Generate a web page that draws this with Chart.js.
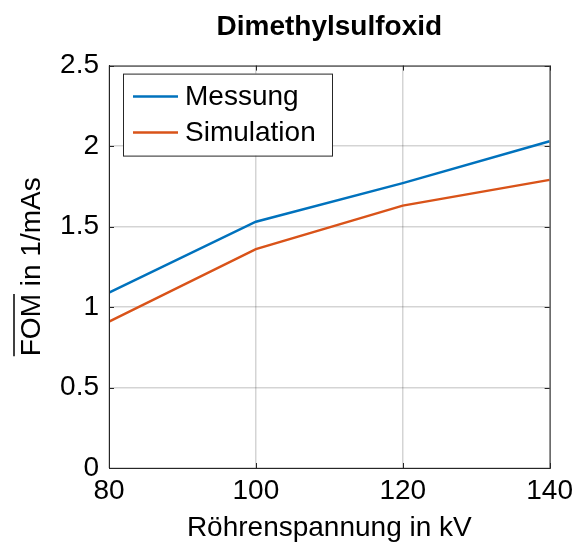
<!DOCTYPE html>
<html>
<head>
<meta charset="utf-8">
<script src="https://cdn.jsdelivr.net/npm/chart.js@4/dist/chart.umd.min.js"></script>
<style>
  html, body { margin: 0; padding: 0; background: #fff; }
</style>
</head>
<body>
<canvas id="chart" width="579" height="547"></canvas>
<script>
// FOM over tube voltage, measured vs. simulated
const voltages = [80, 100, 120, 140];
const messung = [1.09, 1.53, 1.77, 2.03];
const simulation = [0.91, 1.36, 1.63, 1.79];
const xTicks = [80, 100, 120, 140];
const yTicks = [0, 0.5, 1, 1.5, 2, 2.5];

const FONT = "'Liberation Sans', Arial, sans-serif";
const AXIS_COLOR = '#262626';
const GRID_COLOR = 'rgba(0,0,0,0.17)';

function points(values) {
    return voltages.map((v, i) => ({ x: v, y: values[i] }));
}

// box round the plot area plus short inward ticks on all four sides
const boxPlugin = {
    id: 'box',
    afterDatasetsDraw(chart) {
        const { ctx, chartArea: a, scales } = chart;
        ctx.save();
        ctx.strokeStyle = AXIS_COLOR;
        ctx.lineWidth = 1;
        ctx.strokeRect(a.left + 0.5, a.top + 0.5, a.right - a.left, a.bottom - a.top);
        ctx.beginPath();
        xTicks.forEach(t => {
            const x = Math.round(scales.x.getPixelForValue(t)) + 0.5;
            ctx.moveTo(x, a.bottom); ctx.lineTo(x, a.bottom - 5);
            ctx.moveTo(x, a.top); ctx.lineTo(x, a.top + 5);
        });
        yTicks.forEach(t => {
            const y = Math.round(scales.y.getPixelForValue(t)) + 0.5;
            ctx.moveTo(a.left, y); ctx.lineTo(a.left + 5, y);
            ctx.moveTo(a.right, y); ctx.lineTo(a.right - 5, y);
        });
        ctx.stroke();
        ctx.restore();
    }
};

// legend box in the upper left corner of the plot
const insideLegend = {
    id: 'insideLegend',
    afterDraw(chart) {
        const { ctx, chartArea: a } = chart;
        const x0 = a.left + 14, y0 = a.top + 8;
        const w = 209, h = 82;
        ctx.save();
        ctx.fillStyle = '#fff';
        ctx.fillRect(x0, y0, w, h);
        ctx.strokeStyle = AXIS_COLOR;
        ctx.lineWidth = 1;
        ctx.strokeRect(x0 + 0.5, y0 + 0.5, w, h);
        ctx.font = '28px ' + FONT;
        ctx.textBaseline = 'middle';
        chart.data.datasets.forEach((ds, i) => {
            const y = y0 + 23 + i * 36;
            ctx.strokeStyle = ds.borderColor;
            ctx.lineWidth = 2.5;
            ctx.beginPath();
            ctx.moveTo(x0 + 10, y);
            ctx.lineTo(x0 + 55, y);
            ctx.stroke();
            ctx.fillStyle = '#000';
            ctx.fillText(ds.label, x0 + 62, y + 1);
        });
        ctx.restore();
    }
};

// y axis title with an overline on FOM
const yTitle = {
    id: 'yTitle',
    afterDraw(chart) {
        const { ctx, chartArea: a } = chart;
        const head = 'FOM', tail = ' in 1/mAs';
        ctx.save();
        ctx.font = '28px ' + FONT;
        ctx.fillStyle = '#000';
        ctx.textBaseline = 'alphabetic';
        ctx.translate(40, (a.top + a.bottom) / 2);
        ctx.rotate(-Math.PI / 2);
        const wHead = ctx.measureText(head).width;
        const wAll = ctx.measureText(head + tail).width;
        const x = -wAll / 2;
        ctx.fillText(head + tail, x, 0);
        ctx.strokeStyle = '#000';
        ctx.lineWidth = 1.5;
        ctx.beginPath();
        ctx.moveTo(x, -26);
        ctx.lineTo(x + wHead, -26);
        ctx.stroke();
        ctx.restore();
    }
};

new Chart(document.getElementById('chart'), {
    type: 'line',
    data: {
        datasets: [
            { label: 'Messung', data: points(messung), borderColor: '#0072BD', borderWidth: 2.5, pointRadius: 0, tension: 0 },
            { label: 'Simulation', data: points(simulation), borderColor: '#D95319', borderWidth: 2.5, pointRadius: 0, tension: 0 }
        ]
    },
    options: {
        responsive: false,
        animation: false,
        devicePixelRatio: 1,
        layout: { padding: { left: 0, right: 28, top: 0, bottom: 0 } },
        plugins: {
            legend: { display: false },
            tooltip: { enabled: false },
            title: {
                display: true,
                fullSize: false,
                text: 'Dimethylsulfoxid',
                color: '#000',
                font: { family: FONT, size: 28, weight: 'bold' },
                padding: { top: 10, bottom: 22 }
            }
        },
        scales: {
            x: {
                type: 'linear',
                min: 80,
                max: 140,
                afterFit(scale) { scale.height = 79; },
                afterBuildTicks(scale) { scale.ticks = xTicks.map(v => ({ value: v })); },
                ticks: { color: '#000', font: { family: FONT, size: 28 }, padding: 6, maxRotation: 0 },
                grid: { color: GRID_COLOR, lineWidth: 1.5, drawTicks: false },
                border: { color: AXIS_COLOR },
                title: {
                    display: true,
                    text: 'Röhrenspannung in kV',
                    color: '#000',
                    font: { family: FONT, size: 28 },
                    padding: { top: 0, bottom: 2 }
                }
            },
            y: {
                min: 0,
                max: 2.5,
                afterFit(scale) { scale.width = 109; },
                afterBuildTicks(scale) { scale.ticks = yTicks.map(v => ({ value: v })); },
                ticks: { color: '#000', font: { family: FONT, size: 28 }, padding: 10, callback: v => String(v) },
                grid: { color: GRID_COLOR, lineWidth: 1.5, drawTicks: false },
                border: { color: AXIS_COLOR }
            }
        }
    },
    plugins: [boxPlugin, insideLegend, yTitle]
});
</script>
</body>
</html>
